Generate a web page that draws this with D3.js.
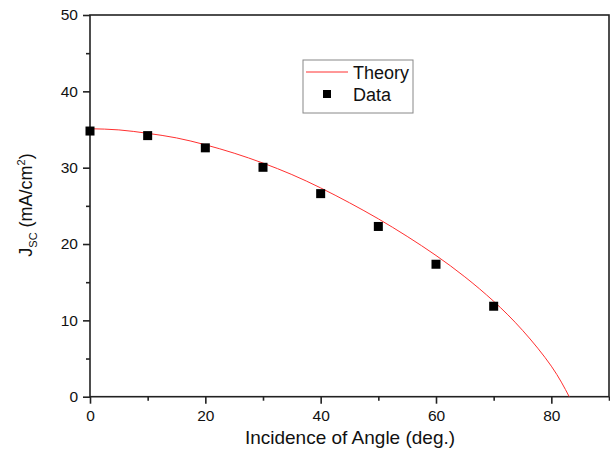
<!DOCTYPE html>
<html><head><meta charset="utf-8">
<script src="https://cdn.jsdelivr.net/npm/d3@7"></script>
<style>body{margin:0;background:#fff}svg{display:block;font-family:"Liberation Sans",Arial,sans-serif}</style>
</head><body><svg id="c" width="610" height="452"></svg>
<script>
const dataAngles = [0, 10, 20, 30, 40, 50, 60, 70];
const dataJsc = [34.8, 34.2, 32.6, 30.05, 26.6, 22.3, 17.35, 11.85];
const theoryAngles = [0, 5, 10, 15, 20, 25, 30, 35, 40, 45, 50, 55, 60, 65, 70, 75, 80, 83.1];
const theoryJsc = [35.1, 34.95, 34.5, 33.9, 33.0, 31.9, 30.6, 29.1, 27.35, 25.4, 23.3, 21.0, 18.5, 15.7, 12.5, 8.7, 4.0, 0];
const xTicks = [0, 20, 40, 60, 80];
const xMinor = [10, 30, 50, 70, 90];
const yTicks = [0, 10, 20, 30, 40, 50];
const yMinor = [5, 15, 25, 35, 45];

const svg = d3.select("#c");
const L = 90, R = 609, T = 15, B = 396.7;
const x = d3.scaleLinear().domain([0, 90]).range([L, R]);
const y = d3.scaleLinear().domain([0, 50]).range([B, T]);
const axisColor = "#222";

svg.append("rect").attr("x", L).attr("y", T).attr("width", R - L).attr("height", B - T)
  .attr("fill", "none").attr("stroke", axisColor).attr("stroke-width", 1.6);

function styleAxis(g) {
  g.select(".domain").remove();
  g.selectAll("line").attr("stroke", axisColor).attr("stroke-width", 1.6);
  g.selectAll("text").attr("fill", "#111").attr("font-size", 15.5)
    .attr("font-family", '"Liberation Sans",Arial,sans-serif');
}
const gx = svg.append("g").attr("transform", `translate(0,${B})`)
  .call(d3.axisBottom(x).tickValues(xTicks).tickSize(7).tickPadding(6).tickFormat(d3.format("d")));
styleAxis(gx);
const gxm = svg.append("g").attr("transform", `translate(0,${B})`)
  .call(d3.axisBottom(x).tickValues(xMinor).tickSize(4).tickFormat(""));
styleAxis(gxm);
const gy = svg.append("g").attr("transform", `translate(${L},0)`)
  .call(d3.axisLeft(y).tickValues(yTicks).tickSize(7).tickPadding(5).tickFormat(d3.format("d")));
styleAxis(gy);
const gym = svg.append("g").attr("transform", `translate(${L},0)`)
  .call(d3.axisLeft(y).tickValues(yMinor).tickSize(4).tickFormat(""));
styleAxis(gym);

const theory = theoryAngles.map((a, i) => [a, theoryJsc[i]]);
svg.append("path").datum(theory)
  .attr("d", d3.line().x(d => x(d[0])).y(d => y(d[1])).curve(d3.curveNatural))
  .attr("fill", "none").attr("stroke", "#ff3030").attr("stroke-width", 1);

const s = 9;
svg.append("g").selectAll("rect").data(dataAngles.map((a, i) => [a, dataJsc[i]])).join("rect")
  .attr("x", d => x(d[0]) - s / 2).attr("y", d => y(d[1]) - s / 2)
  .attr("width", s).attr("height", s).attr("fill", "#000");

svg.append("text").attr("x", 350).attr("y", 444).attr("text-anchor", "middle")
  .attr("font-size", 19).attr("fill", "#111").text("Incidence of Angle (deg.)");
const yt = svg.append("text").attr("transform", "translate(32,205) rotate(-90)")
  .attr("text-anchor", "middle").attr("font-size", 18).attr("fill", "#111");
yt.append("tspan").text("J");
yt.append("tspan").attr("font-size", 11).attr("dy", 5).text("SC");
yt.append("tspan").attr("dy", -5).text(" (mA/cm");
yt.append("tspan").attr("font-size", 11).attr("dy", -7).text("2");
yt.append("tspan").attr("dy", 7).text(")");

const lg = svg.append("g");
lg.append("rect").attr("x", 303).attr("y", 60).attr("width", 110).attr("height", 53)
  .attr("fill", "#fff").attr("stroke", "#888").attr("stroke-width", 1);
lg.append("line").attr("x1", 306).attr("x2", 348).attr("y1", 72).attr("y2", 72)
  .attr("stroke", "#ff3030").attr("stroke-width", 1);
lg.append("text").attr("x", 353).attr("y", 79).attr("font-size", 18).attr("fill", "#111").text("Theory");
lg.append("rect").attr("x", 323).attr("y", 90).attr("width", 8).attr("height", 8).attr("fill", "#000");
lg.append("text").attr("x", 353).attr("y", 101).attr("font-size", 18).attr("fill", "#111").text("Data");
</script></body></html>
